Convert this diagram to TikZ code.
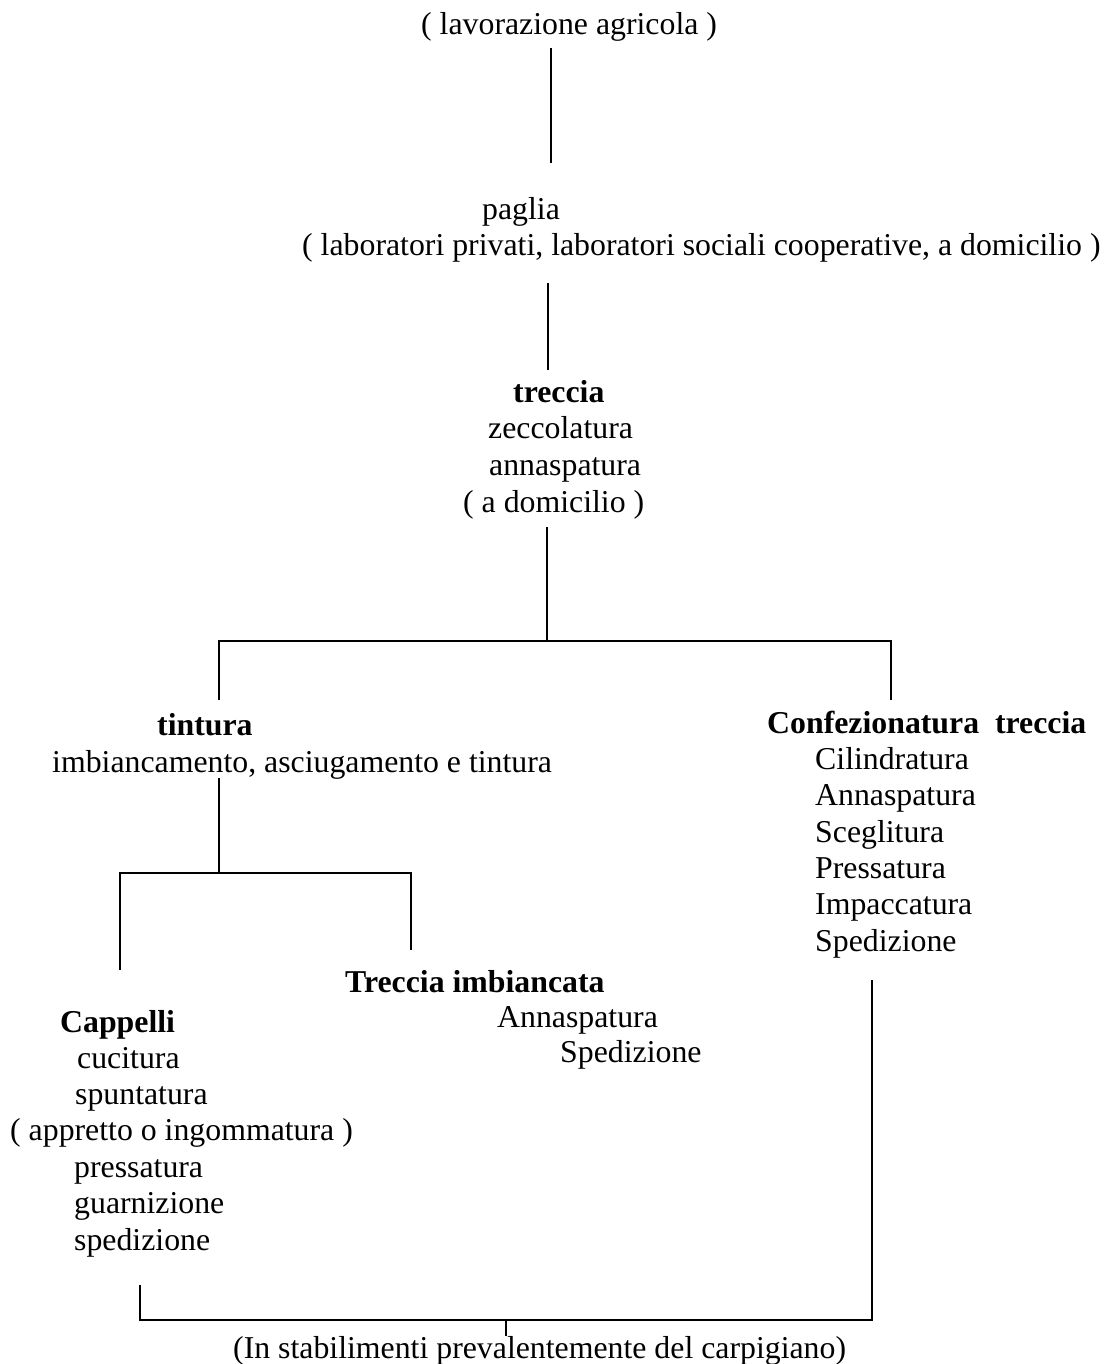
\documentclass[tikz,border=0pt]{standalone}
\usepackage{fontspec}
\setmainfont{Liberation Serif}
\begin{document}
\begin{tikzpicture}[x=1pt,y=-1pt,
  txt/.style={anchor=base west, inner sep=0pt, font=\fontsize{31.8}{37}\selectfont},
  btxt/.style={anchor=base west, inner sep=0pt, font=\fontsize{31.8}{37}\selectfont\bfseries},
  conn/.style={draw=black, line width=2.5pt}]
\fill[white] (0,0) rectangle (1107,1364);
\useasboundingbox (0,0) rectangle (1107,1364);
% texts
\node[txt] (lav) at (421,35) {( lavorazione agricola )};
\node[txt] (pag) at (482,220) {paglia};
\node[txt] (lab) at (302,255) {( laboratori privati, laboratori sociali cooperative, a domicilio )};
\node[btxt] (tre) at (513,402) {treccia};
\node[txt] (zec) at (488,438) {zeccolatura};
\node[txt] (ann1) at (489,475) {annaspatura};
\node[txt] (dom) at (463,512) {( a domicilio )};
\node[btxt] (tin) at (157,735) {tintura};
\node[txt] (imb) at (52,772) {imbiancamento, asciugamento e tintura};
\node[btxt] (conf) at (767,733) {Confezionatura\ \ treccia};
\node[txt] (cil) at (815,769) {Cilindratura};
\node[txt] (ann2) at (815,805) {Annaspatura};
\node[txt] (sce) at (815,842) {Sceglitura};
\node[txt] (pre1) at (815,878) {Pressatura};
\node[txt] (imp) at (815,914) {Impaccatura};
\node[txt] (sped1) at (815,951) {Spedizione};
\node[btxt] (timb) at (345,992) {Treccia imbiancata};
\node[txt] (ann3) at (497,1027) {Annaspatura};
\node[txt] (sped2) at (560,1062) {Spedizione};
\node[btxt] (cap) at (60,1032) {Cappelli};
\node[txt] (cuc) at (77,1068) {cucitura};
\node[txt] (spu) at (75,1104) {spuntatura};
\node[txt] (app) at (10,1140) {( appretto o ingommatura )};
\node[txt] (pre2) at (74,1177) {pressatura};
\node[txt] (gua) at (74,1213) {guarnizione};
\node[txt] (sped3) at (74,1250) {spedizione};
\node[txt] (stab) at (233,1358) {(In stabilimenti prevalentemente del carpigiano)};
% connector points
\coordinate (c1a) at (551,48);  \coordinate (c1b) at (551,163);
\coordinate (c2a) at (548,283); \coordinate (c2b) at (548,370);
\coordinate (c3a) at (547,527); \coordinate (c3b) at (547,641);
\coordinate (hL) at (219,641);  \coordinate (hR) at (891,641);
\coordinate (dL) at (219,700);  \coordinate (dR) at (891,700);
\coordinate (t1) at (219,778);  \coordinate (t2) at (219,873);
\coordinate (h2L) at (120,873); \coordinate (h2R) at (411,873);
\coordinate (d2L) at (120,970); \coordinate (d2R) at (411,950);
\coordinate (r1) at (872,980);  \coordinate (r2) at (872,1320);
\coordinate (bL) at (140,1320); \coordinate (bLt) at (140,1285);
\coordinate (tk1) at (506,1320); \coordinate (tk2) at (506,1336);
% connectors
\draw[conn] (c1a) -- (c1b);
\draw[conn] (c2a) -- (c2b);
\draw[conn] (c3a) -- (c3b);
\draw[conn] (dL) -- (hL) -- (hR) -- (dR);
\draw[conn] (t1) -- (t2);
\draw[conn] (d2L) -- (h2L) -- (h2R) -- (d2R);
\draw[conn] (r1) -- (r2) -- (bL) -- (bLt);
\draw[conn] (tk1) -- (tk2);
\end{tikzpicture}
\end{document}
